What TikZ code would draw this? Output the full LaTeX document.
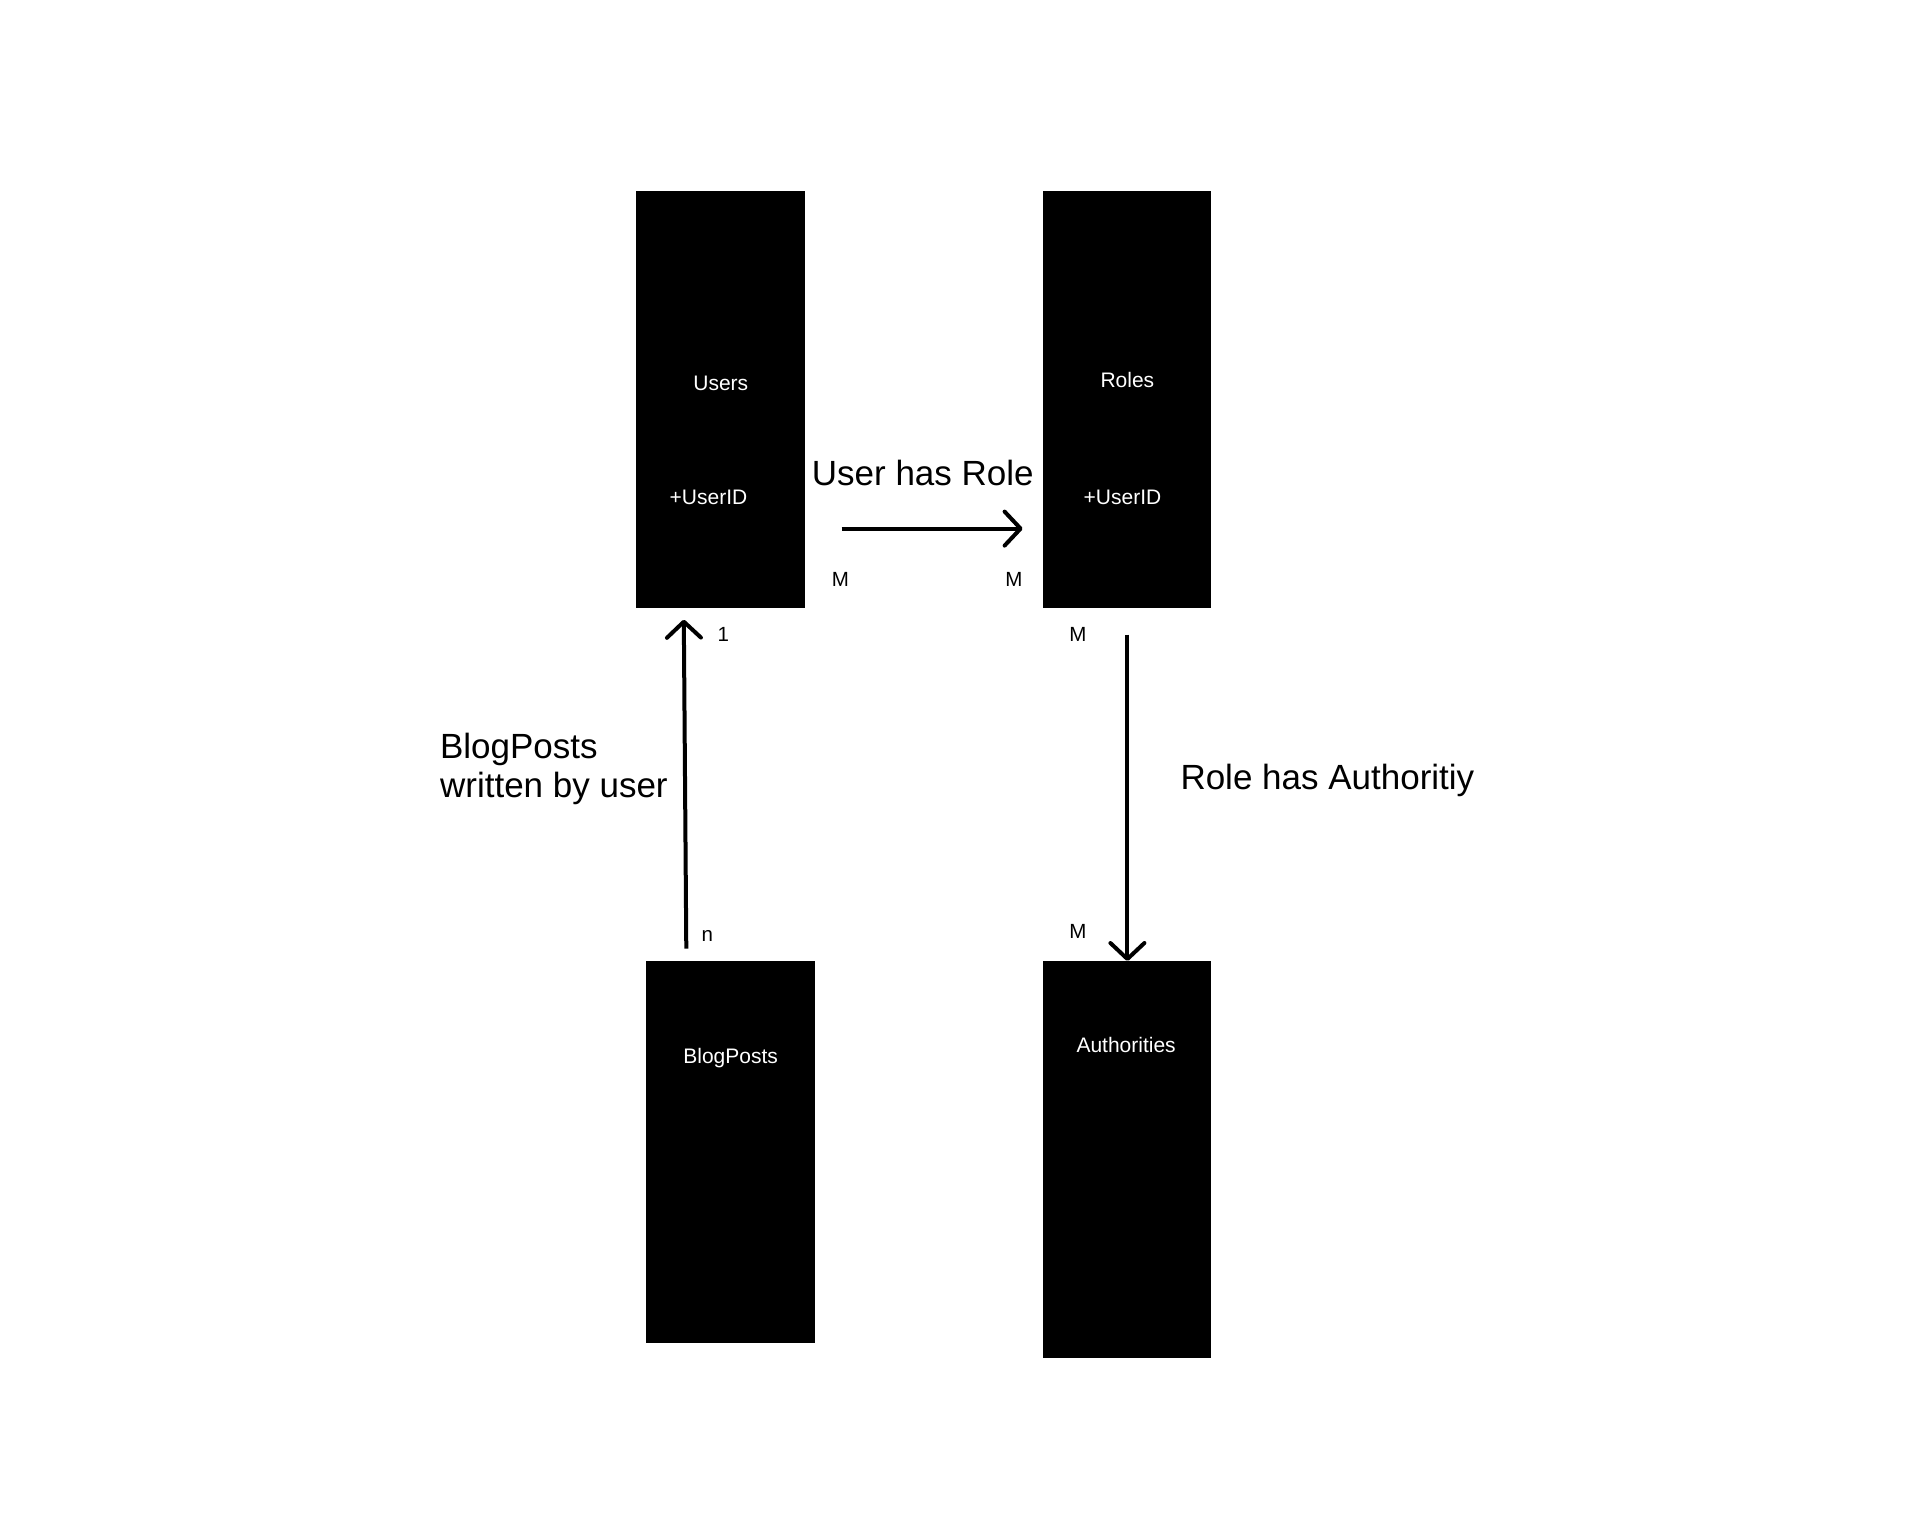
\documentclass[tikz,border=0pt]{standalone}
\usepackage{fontspec}
\setmainfont{Liberation Sans}
\usetikzlibrary{arrows.meta}
\begin{document}
\begin{tikzpicture}[x=1pt,y=-1pt,
  entity/.style={draw=none,fill=black,inner sep=0pt,anchor=north west},
  boxtext/.style={text=white,font=\fontsize{21}{25}\selectfont,inner sep=0pt},
  card/.style={text=black,font=\fontsize{20.5}{24}\selectfont,inner sep=0pt},
  biglabel/.style={text=black,font=\fontsize{35}{40}\selectfont,inner sep=0pt},
  rel/.style={line width=4pt,-{Straight Barb[round,length=16pt,width=34pt]}}]
\useasboundingbox (0,0) rectangle (1932,1538);
\fill[white] (0,0) rectangle (1932,1538);
% entities
\node[entity,minimum width=168.8pt,minimum height=416.4pt] (users) at (635.8,191) {};
\node[entity,minimum width=168.8pt,minimum height=416.4pt] (roles) at (1042.4,191) {};
\node[entity,minimum width=168.8pt,minimum height=382pt] (blog) at (645.6,961) {};
\node[entity,minimum width=168.8pt,minimum height=396.7pt] (auth) at (1042.4,961) {};
% texts inside
\node[boxtext] (usersname) at (720.8,383.2) {Users};
\node[boxtext] (usersid) at (708.5,497.8) {+UserID};
\node[boxtext] (rolesname) at (1127.4,379.5) {Roles};
\node[boxtext] (rolesid) at (1122.5,497.8) {+UserID};
\node[boxtext] (blogname) at (730.6,1058.4) {BlogPosts};
\node[boxtext] (authname) at (1126.1,1044.8) {Authorities};
% connector ends
\coordinate (ur1) at (841.5,528.6);
\coordinate (ur2) at (1022.6,528.6);
\coordinate (bu1) at (686.3,948.7);
\coordinate (bu2) at (683.8,619.7);
\coordinate (ra1) at (1127.4,634.5);
\coordinate (ra2) at (1127.4,961);
\draw[rel] (ur1) -- (ur2);
\draw[rel] (bu1) -- (bu2);
\draw[rel] (ra1) -- (ra2);
% relation labels
\node[biglabel] (urlabel) at (922.8,473.1) {User has Role};
\node[biglabel,anchor=west,align=left] (bulabel) at (439.9,769) {BlogPosts\\[-1pt]written by user};
\node[biglabel,anchor=west] (ralabel) at (1180.3,780) {Role has Authoritiy};
% cardinalities
\node[card] (c1) at (840.3,579.1) {M};
\node[card] (c2) at (1014,579.1) {M};
\node[card] (c3) at (723.2,634.5) {1};
\node[card] (c4) at (707.2,936.4) {n};
\node[card] (c5) at (1078,634.5) {M};
\node[card] (c6) at (1078,931.5) {M};
\end{tikzpicture}
\end{document}
